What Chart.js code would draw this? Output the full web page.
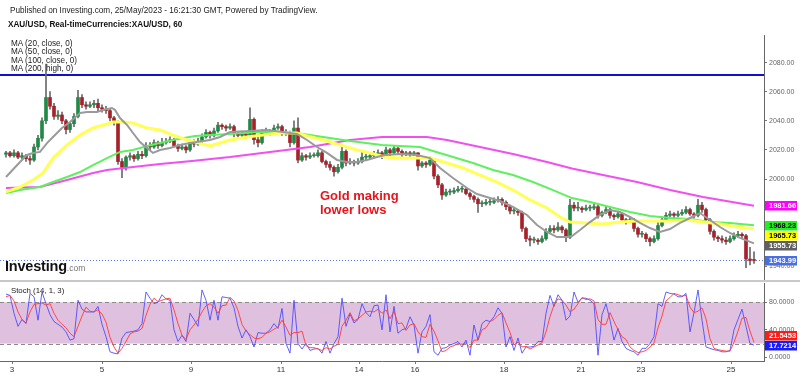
<!DOCTYPE html>
<html><head><meta charset="utf-8">
<script src="https://cdn.jsdelivr.net/npm/chart.js@4.4.0/dist/chart.umd.min.js"></script>
<style>
html,body{margin:0;padding:0;background:#fff;width:800px;height:376px;overflow:hidden;font-family:"Liberation Sans",Arial,sans-serif;}
#wrap{position:relative;width:800px;height:376px;}
canvas{position:absolute;left:0;}
.t{position:absolute;white-space:nowrap;line-height:1;}
</style></head><body>
<div id="wrap">
<canvas id="price" width="800" height="281" style="top:0"></canvas>
<canvas id="stoch" width="800" height="95" style="top:281px"></canvas>
<div style="position:absolute;left:0;top:280px;width:800px;height:2px;background:#c8c8c8"></div>
<div class="t" style="left:10px;top:7px;font-size:8.2px;color:#222">Published on Investing.com, 25/May/2023 - 16:21:30 GMT, Powered by TradingView.</div>
<div class="t" style="left:8px;top:21px;font-size:8.2px;font-weight:bold;color:#111">XAU/USD, Real-timeCurrencies:XAU/USD, 60</div>
<div class="t" style="left:11px;top:39.5px;font-size:8.2px;color:#222">MA (20, close, 0)</div>
<div class="t" style="left:11px;top:48px;font-size:8.2px;color:#222">MA (50, close, 0)</div>
<div class="t" style="left:11px;top:56.5px;font-size:8.2px;color:#222">MA (100, close, 0)</div>
<div class="t" style="left:11px;top:65px;font-size:8.2px;color:#222">MA (200, high, 0)</div>
<div class="t" style="left:320px;top:189px;font-size:13px;font-weight:bold;color:#e8141c">Gold making</div>
<div class="t" style="left:320px;top:203px;font-size:13px;font-weight:bold;color:#e8141c">lower lows</div>
<div class="t" style="left:5px;top:258.5px;font-size:14.5px;font-weight:bold;color:#111;letter-spacing:-0.2px">Investing<span style="font-size:8.5px;font-weight:normal;color:#777;letter-spacing:0">.com</span></div>
<div class="t" style="left:11px;top:287px;font-size:7.8px;color:#222">Stoch (14, 1, 3)</div>
</div>
<script>
// ---------- DATA ----------
// hourly XAU/USD candles sampled every 2h: [open, high, low, close]
const candles = [
[2017,2019,2015,2018],[2018,2019,2015,2016],[2016,2020,2015,2018],[2018,2019,2014,2015],[2015,2018,2014,2016],
[2016,2017,2012,2014],[2014,2016,2010,2013],[2013,2024,2012,2022],[2022,2030,2020,2028],[2028,2042,2026,2040],
[2040,2079,2038,2056],[2056,2060,2048,2050],[2050,2052,2041,2043],[2043,2047,2041,2044],[2044,2046,2038,2040],
[2040,2041,2031,2034],[2034,2039,2032,2038],[2038,2045,2036,2043],[2043,2061,2042,2056],[2056,2058,2049,2051],
[2051,2053,2048,2050],[2050,2053,2049,2051],[2051,2054,2049,2052],[2052,2055,2047,2049],[2049,2051,2046,2048],
[2048,2050,2045,2047],[2047,2048,2040,2042],[2042,2043,2037,2039],[2039,2040,2010,2012],[2012,2014,2001,2008],
[2008,2016,2006,2015],[2015,2018,2013,2016],[2016,2017,2012,2014],[2014,2019,2013,2017],[2017,2019,2014,2016],
[2016,2025,2015,2023],[2023,2025,2020,2022],[2022,2027,2021,2025],[2025,2026,2021,2023],[2023,2028,2022,2025],
[2025,2028,2024,2026],[2026,2029,2025,2027],[2027,2028,2022,2023],[2023,2024,2019,2021],[2021,2024,2020,2022],
[2022,2023,2018,2020],[2020,2027,2019,2025],[2025,2027,2022,2024],[2024,2028,2023,2026],[2026,2031,2025,2029],
[2029,2034,2028,2032],[2032,2033,2028,2030],[2030,2035,2029,2033],[2033,2039,2032,2037],[2037,2038,2034,2036],
[2036,2037,2033,2035],[2035,2038,2034,2036],[2036,2037,2029,2031],[2031,2032,2028,2030],[2030,2033,2029,2031],
[2031,2032,2028,2030],[2030,2049,2029,2041],[2041,2042,2024,2027],[2027,2029,2022,2025],[2025,2034,2024,2032],
[2032,2035,2031,2033],[2033,2034,2030,2032],[2032,2037,2031,2035],[2035,2038,2034,2036],[2036,2037,2030,2031],
[2031,2034,2030,2032],[2032,2033,2022,2025],[2025,2040,2024,2035],[2035,2042,2011,2013],[2013,2018,2012,2016],
[2016,2017,2013,2015],[2015,2018,2014,2016],[2016,2018,2015,2016],[2016,2020,2015,2018],[2018,2019,2011,2012],
[2012,2013,2008,2010],[2010,2012,2006,2008],[2008,2009,2002,2005],[2005,2010,2004,2008],[2008,2022,2007,2019],
[2019,2020,2009,2011],[2011,2014,2010,2012],[2012,2013,2009,2011],[2011,2014,2010,2012],[2012,2019,2011,2015],
[2015,2017,2013,2015],[2015,2018,2014,2016],[2016,2019,2015,2017],[2017,2020,2016,2018],[2018,2019,2014,2016],
[2016,2022,2015,2020],[2020,2021,2016,2018],[2018,2023,2017,2021],[2021,2022,2017,2019],[2019,2020,2015,2017],
[2017,2019,2016,2018],[2018,2019,2015,2017],[2017,2019,2016,2018],[2018,2018,2006,2009],[2009,2012,2008,2011],
[2011,2012,2008,2010],[2010,2015,2009,2013],[2013,2014,2000,2002],[2002,2003,1994,1996],[1996,1997,1986,1989],
[1989,1993,1988,1991],[1991,1993,1989,1991],[1991,1994,1990,1992],[1992,1995,1991,1993],[1993,1995,1991,1993],
[1993,1994,1989,1990],[1990,1991,1986,1988],[1988,1989,1984,1986],[1986,1987,1977,1983],[1983,1985,1981,1983],
[1983,1986,1982,1984],[1984,1986,1982,1984],[1984,1987,1983,1985],[1985,1988,1984,1986],[1986,1987,1982,1984],
[1984,1985,1979,1981],[1981,1982,1976,1978],[1978,1980,1976,1978],[1978,1979,1975,1977],[1977,1978,1964,1966],
[1966,1967,1957,1959],[1959,1961,1954,1958],[1958,1960,1956,1958],[1958,1959,1955,1957],[1957,1961,1956,1959],
[1959,1966,1958,1964],[1964,1968,1963,1966],[1966,1968,1963,1965],[1965,1970,1964,1967],[1967,1968,1963,1965],
[1965,1966,1957,1960],[1960,1986,1959,1982],[1982,1984,1978,1980],[1980,1984,1978,1980],[1980,1981,1977,1979],
[1979,1982,1978,1980],[1980,1982,1978,1980],[1980,1983,1979,1981],[1981,1982,1973,1975],[1975,1978,1974,1977],
[1977,1981,1976,1979],[1979,1980,1973,1975],[1975,1976,1972,1974],[1974,1978,1973,1976],[1976,1977,1970,1972],
[1972,1973,1969,1971],[1971,1974,1970,1972],[1972,1973,1964,1966],[1966,1967,1960,1962],[1962,1964,1960,1962],
[1962,1963,1957,1959],[1959,1960,1954,1957],[1957,1961,1956,1959],[1959,1970,1958,1968],[1968,1974,1967,1972],
[1972,1977,1971,1975],[1975,1978,1974,1976],[1976,1977,1973,1975],[1975,1978,1974,1976],[1976,1979,1975,1977],
[1977,1981,1976,1979],[1979,1980,1975,1976],[1976,1977,1973,1975],[1975,1986,1974,1982],[1982,1984,1977,1979],
[1979,1980,1970,1972],[1972,1973,1962,1964],[1964,1965,1958,1960],[1960,1961,1957,1959],[1959,1961,1956,1958],
[1958,1960,1955,1957],[1957,1961,1956,1959],[1959,1963,1958,1961],[1961,1964,1960,1962],[1962,1963,1959,1961],
[1961,1962,1939,1945],[1945,1953,1941,1944],[1944,1950,1942,1943.99]
];
// moving averages: [candle index, price]
const ma20 = [[0,2001.4],[3.5,2011.7],[5.25,2016.5],[6.75,2017.9],[8.5,2018.6],[10.25,2024.7],[11.75,2028.9],[14,2035.1],[16,2039.2],[18.5,2045.4],[20.25,2046],[22.75,2046],[24.25,2047.4],[26.5,2048.8],[27.25,2047.4],[28.5,2041.9],[30.25,2037.1],[31.75,2031.6],[33.5,2025.4],[35.25,2021.3],[36.75,2017.9],[38.5,2019.9],[41,2021.3],[43.5,2023.4],[46,2024.7],[51,2026.8],[53.5,2028.9],[56,2032.3],[61,2033],[65.25,2033.7],[69.25,2032.3],[72.75,2030.9],[75.25,2026.8],[77.75,2022],[80.25,2017.9],[82.75,2013.1],[85.25,2011.7],[87.75,2011.7],[90.25,2013.1],[92.75,2015.1],[94.75,2016.5],[98.5,2017.2],[102.75,2016.5],[106,2014.4],[108.5,2007.6],[111.75,2000.7],[115.25,1993.8],[117.75,1989.7],[121,1986.9],[123.5,1984.9],[126.75,1980.8],[130.25,1975.3],[132.75,1968.4],[135.25,1963.6],[137.75,1960.1],[140.25,1960.1],[141.5,1960.8],[143.5,1964.9],[146,1970.4],[148.5,1975.3],[151,1978.7],[153.5,1977.3],[156,1973.9],[158.5,1969.8],[161,1966.3],[163.5,1963.6],[166,1965.6],[168.5,1969.8],[171,1973.2],[173.5,1976.6],[176,1971.8],[178.5,1967],[181,1962.9],[183.5,1959.5],[187,1955.73]];
const ma50 = [[0,1991.1],[3.5,1994.5],[6.75,1999.3],[9.25,2004.1],[11.75,2014.4],[15.25,2023.4],[18.5,2030.2],[21.75,2035.1],[25.25,2037.8],[26.75,2039.2],[29.25,2039.2],[31.75,2038.5],[35.25,2035.1],[38.5,2033.7],[41.75,2030.2],[45.25,2026.8],[47.25,2025.4],[51,2022.7],[53.5,2024.7],[56,2026.8],[60.25,2028.9],[64.25,2030.2],[68.5,2031.6],[72.75,2031.6],[75.25,2029.6],[79.25,2026.8],[83.5,2023.4],[87.75,2019.9],[91,2017.9],[94.75,2015.1],[98.5,2014.4],[102.75,2014.4],[106,2014.4],[110.25,2011],[114.25,2007.6],[118.5,2002.7],[122.75,1997.9],[126.75,1992.4],[131,1985.6],[135.25,1980.1],[138.5,1973.9],[141,1970.4],[145.25,1969.8],[149.25,1969.1],[153.5,1970.4],[157.75,1971.1],[161.75,1971.1],[166,1971.1],[170.25,1971.8],[174.25,1970.4],[178.5,1969.1],[182.75,1967],[187,1965.73]];
const ma100 = [[0,1990.4],[3.5,1992.4],[8.5,1994.5],[11.75,1997.9],[15.25,2001.4],[18.5,2004.8],[21.75,2009.6],[25.25,2014.4],[28.5,2018.6],[31.75,2019.9],[35.25,2022.7],[38.5,2024.7],[41.75,2026.8],[47.25,2029.6],[51,2030.2],[56,2030.9],[62.75,2032.3],[68.5,2032.3],[72.75,2031.6],[79.25,2028.9],[86,2026.1],[94,2023.4],[98.5,2022.7],[103.5,2022],[106.75,2019.2],[111.75,2015.1],[116.75,2011],[121.75,2006.2],[126.75,2002.7],[131.75,1997.9],[136.75,1992.4],[141.5,1986.9],[146,1984.2],[151,1980.8],[156,1977.3],[161,1974.6],[166,1973.2],[171,1972.5],[176,1970.4],[181,1969.8],[187,1968.23]];
const ma200 = [[0,1993.8],[8.5,1994.5],[15.25,1999.3],[21.75,2004.1],[25.25,2006.2],[31.75,2008.2],[38.5,2010.3],[46.5,2012.4],[56,2015.1],[66,2018.6],[76,2022],[86,2026.8],[94,2028.9],[105.25,2028.9],[110.25,2026.8],[118.5,2022],[126.75,2017.2],[135.25,2011.7],[141.5,2007.2],[149.25,2002.7],[157.75,1997.9],[166,1992.4],[174.25,1987.6],[187,1981.66]];
const hLinePrice = 2071.5;
const lastPrice = 1943.99;
const priceTicks = [1940,1960,1980,2000,2020,2040,2060,2080];
const priceLabels = [1981.66,1968.23,1965.73,1955.73,1943.99];
const priceLabelColors = ['#ff00ff','#22ee22','#ffff00','#5f5f5f','#4a6fe0'];
const priceLabelText = ['#ffffff','#000000','#000000','#ffffff','#ffffff'];
// stochastic (14,1,3)
const stochK = [92,90,64,45,55,49,93,88,54,95,78,62,52,48,44,37,25,27,83,70,66,66,66,74,48,30,8,6,5,28,36,37,38,40,49,95,86,78,80,91,85,83,40,23,32,23,64,55,45,98,83,54,83,54,88,87,86,72,45,28,40,30,15,36,35,35,40,49,42,71,20,6,83,20,12,20,10,12,13,6,23,6,20,30,86,45,63,50,55,78,65,59,75,76,40,91,37,74,35,40,42,59,47,6,37,45,62,8,3,13,14,18,20,23,15,25,3,47,25,49,54,52,59,72,64,15,30,10,28,6,15,15,16,23,23,64,90,74,91,83,54,60,95,80,86,86,83,78,3,62,78,54,25,42,23,13,10,8,3,13,13,20,30,78,74,95,93,92,88,88,93,37,65,98,54,15,13,11,10,8,8,10,40,55,70,45,20,17.7214];
const stochD = [88,90,82,66,55,50,66,77,78,79,76,78,64,54,48,43,35,30,45,60,73,67,66,69,63,51,29,15,6,13,23,34,37,38,42,61,77,86,81,83,85,86,69,49,32,26,40,47,55,66,75,78,73,64,75,76,87,82,68,48,38,33,28,27,29,35,37,41,44,54,44,32,36,36,38,17,14,14,12,10,14,12,16,19,45,54,65,53,56,61,66,67,66,70,64,69,56,67,49,50,39,47,49,37,30,29,48,38,24,8,10,15,17,20,19,21,14,25,25,40,43,52,55,61,65,50,36,18,22,15,16,12,15,18,21,37,59,76,85,83,76,66,70,78,87,84,85,82,55,48,48,65,52,40,30,26,15,10,7,8,10,15,21,43,60,82,87,93,91,89,90,73,65,67,72,56,27,13,11,10,9,9,22,38,57,58,38,21.5453];
const stochBand = [20,80];
const stochTicks = [0,40,80];
const stochLabels = [21.5453,17.7214];
const dayTicks = [1.5,24,46.25,68.75,88.25,102.25,124.5,143.75,158.75,181.25];
const dayLabels = ['3','5','9','11','14','16','18','21','23','25'];

// ---------- helpers ----------
const FONT = 'Liberation Sans';
const X_MIN = -1.5, X_MAX = 189.5;
const UP = '#1f8a45', DOWN = '#a8212a';
const bodyData = candles.map((c,i)=>({x:i,y:[c[0],c[3]]}));
const wickData = candles.map((c,i)=>({x:i,y:[c[2],c[1]]}));
const bodyColors = candles.map(c=>c[3]>=c[0]?UP:DOWN);
const pts = a => a.map(p=>({x:p[0],y:p[1]}));

function drawBoxes(ctx, chart, values, bgs, fgs, dir){
  const y = chart.scales.y, area = chart.chartArea;
  let items = values.map((v,i)=>({v,i,py:y.getPixelForValue(v)}));
  items.sort((a,b)=>a.py-b.py);
  if(dir==='down'){ for(let j=1;j<items.length;j++) items[j].py=Math.max(items[j].py,items[j-1].py+10); }
  else { for(let j=items.length-2;j>=0;j--) items[j].py=Math.min(items[j].py,items[j+1].py-10); }
  ctx.save();
  ctx.font = 'bold 7.5px "'+FONT+'"';
  ctx.textBaseline='middle';
  items.forEach(it=>{
    const x0 = area.right+1;
    ctx.fillStyle = bgs[it.i];
    ctx.fillRect(x0, Math.round(it.py-4.5), 32, 9.5);
    ctx.fillStyle = fgs[it.i];
    ctx.fillText(it.v.toFixed(it.v<100?4:2), x0+4, it.py+0.5);
  });
  ctx.restore();
}

const pricePlugin = {
  id:'pricePlugin',
  beforeDatasetsDraw(chart){
    const {ctx, chartArea:a, scales:{y}} = chart;
    ctx.save();
    let py = y.getPixelForValue(hLinePrice);
    ctx.strokeStyle='#1010d0'; ctx.lineWidth=2;
    ctx.beginPath(); ctx.moveTo(a.left,py); ctx.lineTo(a.right,py); ctx.stroke();
    py = Math.round(y.getPixelForValue(lastPrice))+0.5;
    ctx.strokeStyle='#5a78e0'; ctx.lineWidth=1; ctx.setLineDash([1,2]);
    ctx.beginPath(); ctx.moveTo(a.left,py); ctx.lineTo(a.right,py); ctx.stroke();
    ctx.restore();
  },
  afterDraw(chart){ drawBoxes(chart.ctx, chart, priceLabels, priceLabelColors, priceLabelText, 'down'); }
};

const stochPlugin = {
  id:'stochPlugin',
  beforeDatasetsDraw(chart){
    const {ctx, chartArea:a, scales:{y}} = chart;
    const y1 = y.getPixelForValue(stochBand[1]), y0 = y.getPixelForValue(stochBand[0]);
    ctx.save();
    ctx.fillStyle='#dfc0df';
    ctx.fillRect(a.left, y1, a.right-a.left, y0-y1);
    ctx.strokeStyle='#8a8a8a'; ctx.lineWidth=1; ctx.setLineDash([4,3]);
    [y1,y0].forEach(p=>{ctx.beginPath(); ctx.moveTo(a.left,Math.round(p)+0.5); ctx.lineTo(a.right,Math.round(p)+0.5); ctx.stroke();});
    ctx.restore();
  },
  afterDraw(chart){ drawBoxes(chart.ctx, chart, stochLabels, ['#ff1a1a','#1a1aff'], ['#fff','#fff'], 'up'); }
};

const axisFont = {family:FONT, size:7};

new Chart(document.getElementById('price'), {
  type:'bar',
  data:{datasets:[
    {type:'line', data:pts(ma20), borderColor:'#9a9a9a', borderWidth:2, pointRadius:0, order:0},
    {type:'line', data:pts(ma50), borderColor:'#ffff55', borderWidth:3, pointRadius:0, order:1},
    {type:'line', data:pts(ma100), borderColor:'#5ef05e', borderWidth:2, pointRadius:0, order:2},
    {type:'line', data:pts(ma200), borderColor:'#f050f0', borderWidth:2, pointRadius:0, order:3},
    {data:bodyData, backgroundColor:bodyColors, barThickness:3, minBarLength:1, grouped:false, order:4},
    {data:wickData, backgroundColor:'#6a6a6a', barThickness:1, grouped:false, order:5}
  ]},
  options:{
    responsive:false, animation:false, devicePixelRatio:1,
    layout:{padding:{top:35,left:0,right:0,bottom:0}},
    plugins:{legend:{display:false}, tooltip:{enabled:false}},
    scales:{
      x:{type:'linear', display:false, min:X_MIN, max:X_MAX, offset:false},
      y:{position:'right', min:1929.9, max:2098.97,
         afterFit(s){s.width=36; s.paddingTop=0; s.paddingBottom=0;},
         afterBuildTicks(s){s.ticks=priceTicks.map(v=>({value:v}));},
         ticks:{callback:v=>Number(v).toFixed(2), font:axisFont, color:'#666', padding:2},
         grid:{drawOnChartArea:false, drawTicks:true, tickLength:3, color:'#777'},
         border:{display:true, color:'#666', width:1}}
    }
  },
  plugins:[pricePlugin]
});

new Chart(document.getElementById('stoch'), {
  type:'line',
  data:{datasets:[
    {data:stochK.map((v,i)=>({x:i,y:v})), borderColor:'rgba(70,70,255,0.85)', borderWidth:1, pointRadius:0, order:1},
    {data:stochD.map((v,i)=>({x:i,y:v})), borderColor:'rgba(255,60,60,0.9)', borderWidth:1, pointRadius:0, order:0}
  ]},
  options:{
    responsive:false, animation:false, devicePixelRatio:1,
    layout:{padding:{top:2,left:0,right:0,bottom:0}},
    plugins:{legend:{display:false}, tooltip:{enabled:false}},
    scales:{
      x:{type:'linear', min:X_MIN, max:X_MAX,
         afterFit(s){s.height=15; s.paddingLeft=0; s.paddingRight=0;},
         afterBuildTicks(s){s.ticks=dayTicks.map(v=>({value:v}));},
         ticks:{autoSkip:false, maxRotation:0, callback:(v,i)=>dayLabels[i], font:{family:FONT,size:8}, color:'#333', padding:1},
         grid:{drawOnChartArea:false, drawTicks:true, tickLength:3, color:'#777'},
         border:{display:true, color:'#666', width:1}},
      y:{position:'right', min:-5.38, max:108.07,
         afterFit(s){s.width=36; s.paddingTop=0; s.paddingBottom=0;},
         afterBuildTicks(s){s.ticks=stochTicks.map(v=>({value:v}));},
         ticks:{callback:v=>Number(v).toFixed(4), font:axisFont, color:'#666', padding:2},
         grid:{drawOnChartArea:false, drawTicks:true, tickLength:3, color:'#777'},
         border:{display:true, color:'#666', width:1}}
    }
  },
  plugins:[stochPlugin]
});
</script>
</body></html>
